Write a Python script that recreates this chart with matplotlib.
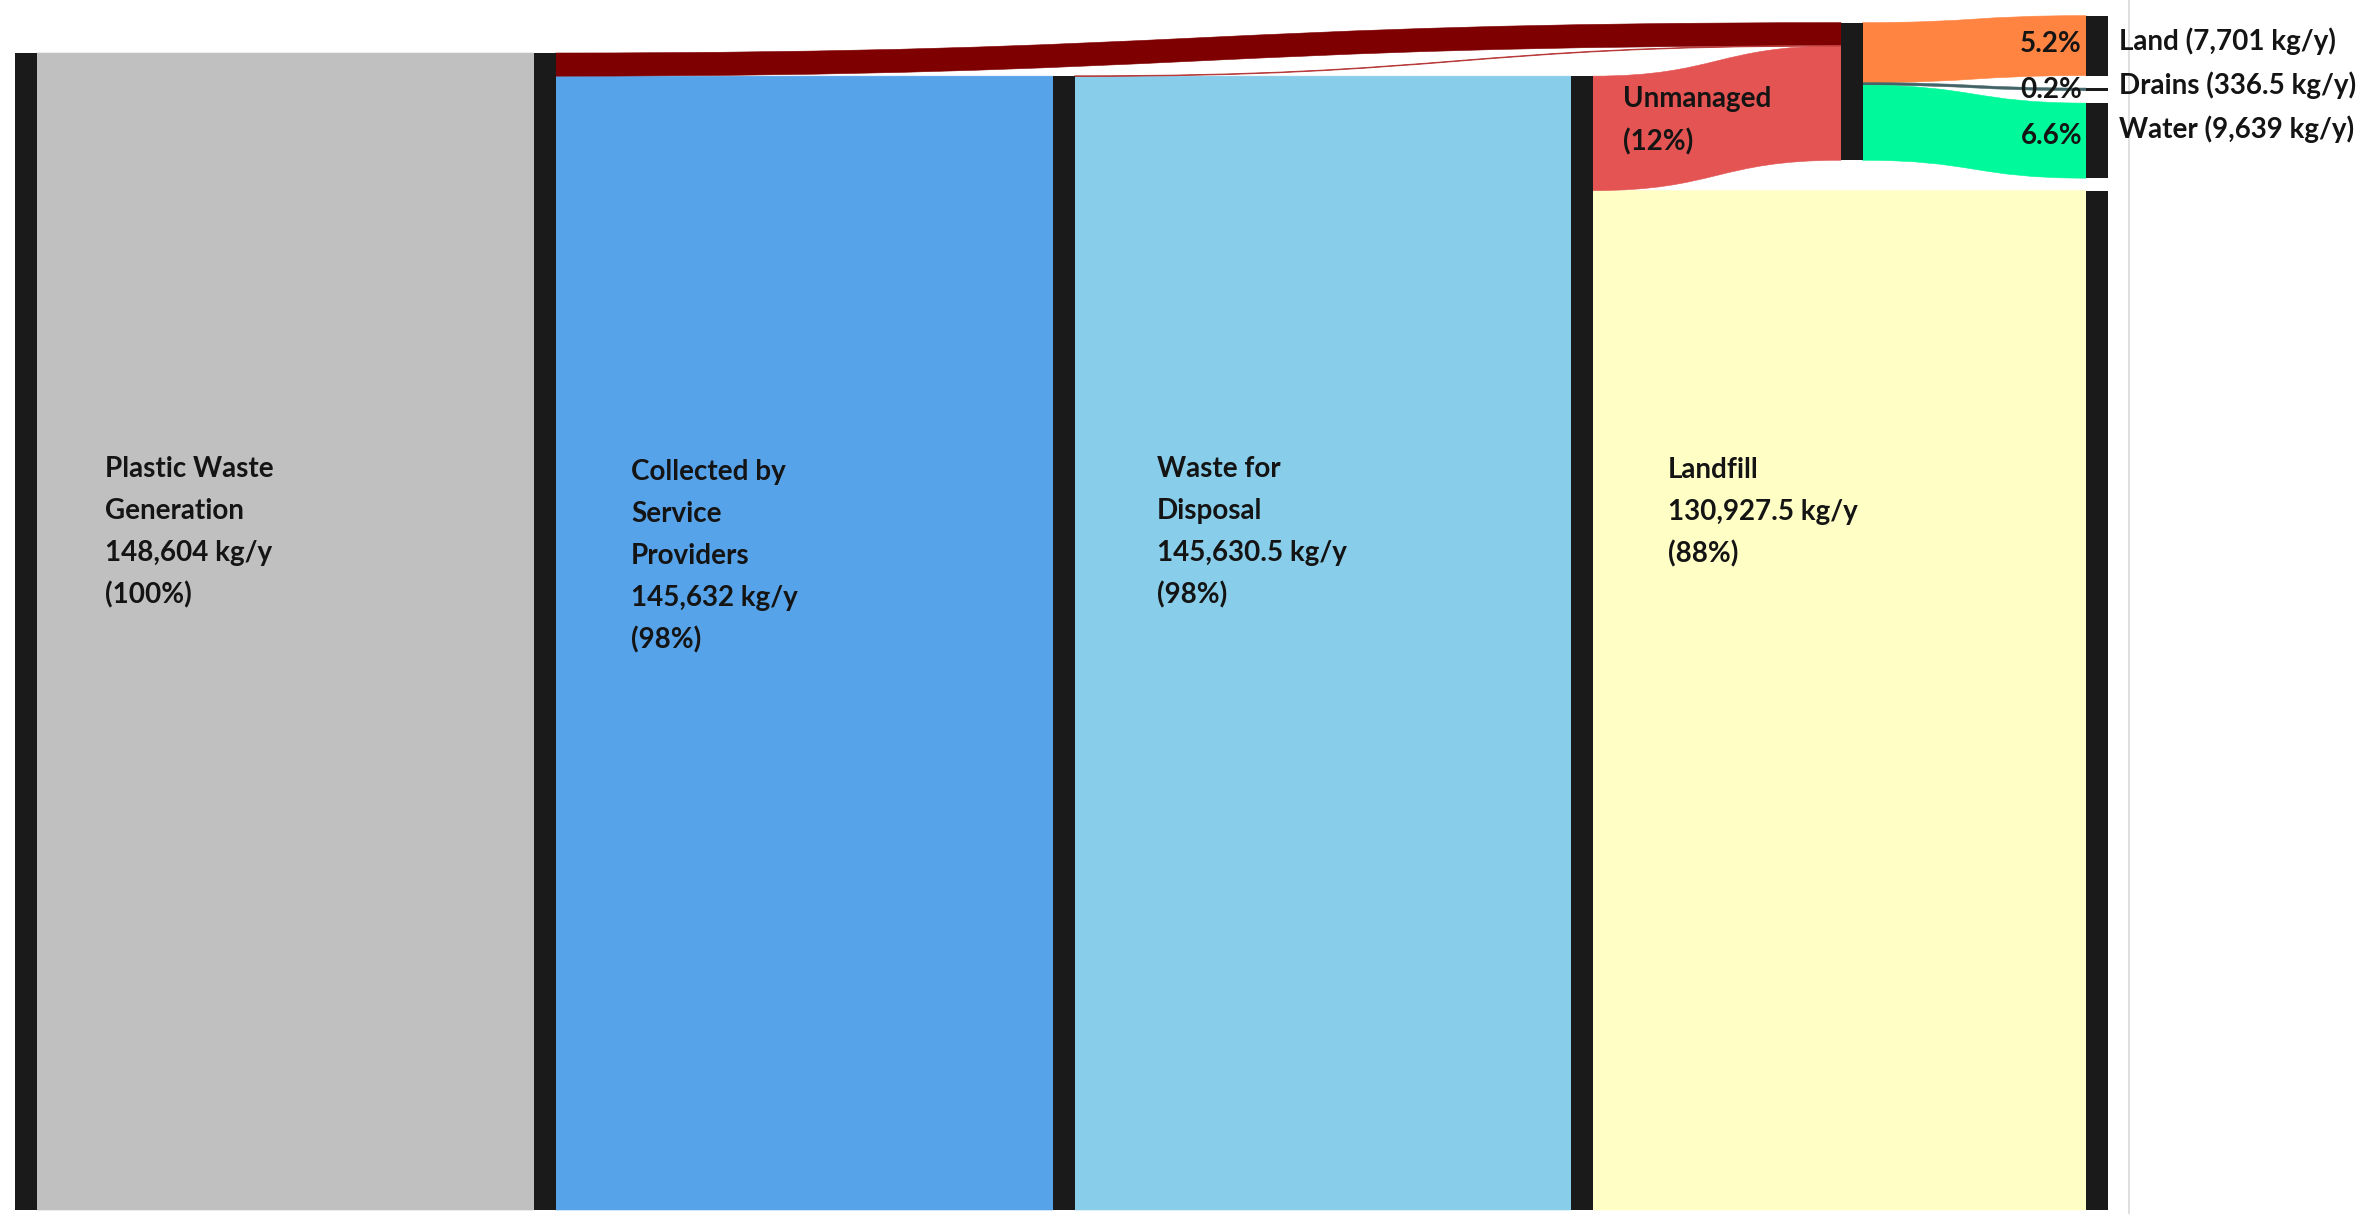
import matplotlib
matplotlib.use("Agg")
import matplotlib.pyplot as plt
from matplotlib.path import Path
from matplotlib.patches import PathPatch, Rectangle

# ---- data (kg per year) ----
generated = 148604
collected = 145632
disposal = 145630.5
landfill = 130927.5

stage_titles = [["Plastic Waste", "Generation"],
                ["Collected by", "Service", "Providers"],
                ["Waste for", "Disposal"],
                ["Landfill"]]
stage_values = [generated, collected, disposal, landfill]
stage_pct = ["(100%)", "(98%)", "(98%)", "(88%)"]

unmanaged_title = "Unmanaged"
unmanaged_pct = "(12%)"

fate_names = ["Land", "Drains", "Water"]
fate_values = [7701, 336.5, 9639]
fate_pct = ["5.2%", "0.2%", "6.6%"]

# ---- colours ----
C_GEN = "#c0c0c0"
C_COLLECT = "#56a3ea"
C_DISPOSAL = "#88cdea"
C_LANDFILL = "#fffec4"
C_LEAK_GEN = "#7f0000"
C_LEAK_COL = "#b83a3a"
C_LEAK_DISP = "#e35452"
C_FATES = ["#ff8442", "#3d5f63", "#00f99a"]
C_NODE = "#1a1a1a"
C_TEXT = "#141414"

# ---- layout (pixels horizontally, kg vertically) ----
W, H = 2380, 1214
TOP_PX, BOT_PX = 53, 1210
K = (BOT_PX - TOP_PX) / generated          # pixels per kg
BAR_W = 21.5
X_GEN, X_GEN2, X_COL, X_DISP, X_UNM, X_END = 15, 534, 1053, 1571, 1841, 2086
UNM_TOP = -3900                              # kg offset of the unmanaged node
GAP = 1600                                   # kg gap between end nodes

FONT = ["Lato", "DejaVu Sans"]
FS = 20


def py(px):
    """Pixel row -> vertical data value."""
    return (px - TOP_PX) / K


def fmt(v):
    return f"{v:,.0f}" if float(v).is_integer() else f"{v:,.1f}"


fig = plt.figure(figsize=(W / 100, H / 100), dpi=100)
ax = fig.add_axes([0, 0, 1, 1])
ax.set_xlim(0, W)
ax.set_ylim(py(H), py(0))
ax.axis("off")


def band(x0, y0, x1, y1, value, color, alpha=1.0, z=1):
    xm = (x0 + x1) / 2
    verts = [(x0, y0), (xm, y0), (xm, y1), (x1, y1),
             (x1, y1 + value),
             (xm, y1 + value), (xm, y0 + value), (x0, y0 + value),
             (x0, y0)]
    codes = [Path.MOVETO, Path.CURVE4, Path.CURVE4, Path.CURVE4,
             Path.LINETO,
             Path.CURVE4, Path.CURVE4, Path.CURVE4,
             Path.CLOSEPOLY]
    ax.add_patch(PathPatch(Path(verts, codes), facecolor=color, edgecolor=color,
                           lw=0.4, alpha=alpha, zorder=z))


def curve(x0, y0, x1, y1, color, lw, alpha=1.0, z=1.2):
    xm = (x0 + x1) / 2
    verts = [(x0, y0), (xm, y0), (xm, y1), (x1, y1)]
    codes = [Path.MOVETO, Path.CURVE4, Path.CURVE4, Path.CURVE4]
    ax.add_patch(PathPatch(Path(verts, codes), facecolor="none", edgecolor=color,
                           lw=lw, alpha=alpha, zorder=z))


def node(x, top, value):
    ax.add_patch(Rectangle((x, top), BAR_W, value, facecolor=C_NODE,
                           edgecolor="none", zorder=2))


leak_gen = generated - collected
leak_col = collected - disposal
leak_disp = disposal - landfill
unmanaged = leak_gen + leak_col + leak_disp

# flows through the managed chain
band(X_GEN + BAR_W, 0, X_GEN2, 0, generated, C_GEN)
band(X_GEN2 + BAR_W, leak_gen, X_COL, leak_gen, collected, C_COLLECT)
band(X_COL + BAR_W, leak_gen + leak_col, X_DISP, leak_gen + leak_col, disposal, C_DISPOSAL)
landfill_top = leak_gen + leak_col + leak_disp
band(X_DISP + BAR_W, landfill_top, X_END, landfill_top, landfill, C_LANDFILL)

# leakage into the unmanaged pool
band(X_GEN2 + BAR_W, 0, X_UNM, UNM_TOP, leak_gen, C_LEAK_GEN)
band(X_COL + BAR_W, leak_gen, X_UNM, UNM_TOP + leak_gen, leak_col, C_LEAK_COL)
curve(X_COL + BAR_W, leak_gen + leak_col / 2, X_UNM, UNM_TOP + leak_gen + leak_col / 2,
      C_LEAK_COL, 1.1, alpha=0.85)
band(X_DISP + BAR_W, leak_gen + leak_col, X_UNM, UNM_TOP + leak_gen + leak_col,
     leak_disp, C_LEAK_DISP)

# end nodes stacked upwards from the landfill node
fate_tops = []
y = landfill_top
for v in reversed(fate_values):
    y = y - GAP - v
    fate_tops.insert(0, y)

src = UNM_TOP
for v, top, c in zip(fate_values, fate_tops, C_FATES):
    band(X_UNM + BAR_W, src, X_END, top, v, c, alpha=0.9 if c == C_FATES[1] else 1.0)
    src += v
curve(X_UNM + BAR_W, UNM_TOP + fate_values[0] + fate_values[1] / 2,
      X_END, fate_tops[1] + fate_values[1] / 2, C_FATES[1], 1.0, alpha=0.8)

# nodes
node(X_GEN, 0, generated)
node(X_GEN2, 0, generated)
node(X_COL, leak_gen, collected)
node(X_DISP, leak_gen + leak_col, disposal)
node(X_UNM, UNM_TOP, unmanaged)
node(X_END, landfill_top, landfill)
for v, top in zip(fate_values, fate_tops):
    node(X_END, top, v)

# thin frame line on the right
ax.plot([2129, 2129], [py(0), py(H)], color="#d9d9d9", lw=1.2, zorder=0.5)


def label(x, baseline_px, text, ha="left"):
    ax.text(x, py(baseline_px), text, ha=ha, va="baseline", fontsize=FS,
            fontweight="bold", color=C_TEXT, family=FONT, zorder=3)


# stage labels
stage_x = [105, 631, 1157, 1668]
stage_base = [477, 480, 477, 478]
LINE = 42
for title, val, pct, x, b in zip(stage_titles, stage_values, stage_pct, stage_x, stage_base):
    lines = title + [f"{fmt(val)} kg/y", pct]
    for i, t in enumerate(lines):
        label(x, b + i * LINE, t)

label(1623, 107, unmanaged_title)
label(1623, 150, unmanaged_pct)

# end-node labels and shares
for i, (name, v, pct) in enumerate(zip(fate_names, fate_values, fate_pct)):
    label(2119, 50 + i * 44, f"{name} ({fmt(v)} kg/y)")
    label(2082, 52 + i * 46, pct, ha="right")

fig.savefig("out.png", dpi=100, facecolor="white")
